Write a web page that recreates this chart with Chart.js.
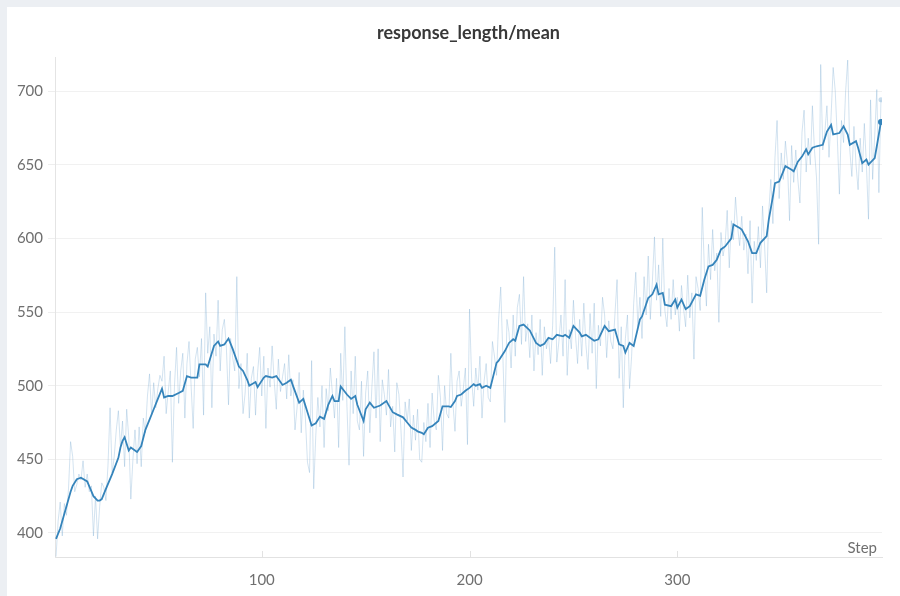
<!DOCTYPE html>
<html>
<head>
<meta charset="utf-8">
<script src="https://cdn.jsdelivr.net/npm/chart.js@4.4.1/dist/chart.umd.min.js"></script>
<style>
  html, body { margin: 0; padding: 0; width: 900px; height: 596px; overflow: hidden; background: #eceff3; }
  #card { position: absolute; left: 7px; top: 7px; width: 893px; height: 589px; background: #ffffff; }
  canvas { display: block; }
</style>
</head>
<body>
<div id="card"><canvas id="c" width="893" height="589"></canvas></div>
<script>
const chartTitle = "response_length/mean";
const xAxisLabel = "Step";
const yTickValues = [400, 450, 500, 550, 600, 650, 700];
const xTickValues = [100, 200, 300];

// raw metric, one value per step (step 1 .. 398)
const rawValues = [
  384, 408, 421, 398, 420, 412, 430, 462, 452, 428,
  433, 440, 436, 449, 431, 440, 428, 432, 398, 425,
  396, 418, 434, 431, 422, 446, 485, 440, 452, 470,
  483, 458, 476, 445, 484, 465, 423, 450, 470, 447,
  472, 445, 478, 468, 493, 508, 480, 502, 485, 498,
  507, 503, 520, 481, 496, 510, 448, 500, 526, 488,
  510, 522, 478, 515, 530, 500, 471, 518, 526, 506,
  532, 480, 563, 522, 540, 485, 535, 520, 558, 510,
  538, 545, 525, 487, 532, 519, 510, 574, 498, 515,
  481, 495, 522, 478, 505, 513, 480, 509, 526, 493,
  520, 471, 512, 499, 527, 503, 484, 518, 496, 506,
  515, 491, 521, 493, 504, 470, 485, 509, 468, 497,
  478, 448, 441, 517, 430, 466, 492, 472, 500, 458,
  498, 483, 512, 495, 478, 505, 458, 522, 490, 540,
  486, 446, 510, 481, 520, 476, 470, 503, 452, 495,
  510, 468, 499, 523, 478, 525, 462, 504, 494, 480,
  511, 472, 486, 455, 502, 494, 470, 438, 489, 476,
  491, 456, 480, 463, 484, 450, 448, 475, 462, 488,
  458, 495, 476, 470, 507, 492, 456, 500, 481, 478,
  522, 488, 469, 503, 510, 486, 498, 512, 460, 552,
  505, 486, 512, 497, 520, 478, 503, 515, 492, 489,
  530, 520, 507, 545, 567, 522, 475, 545, 536, 512,
  548, 520, 553, 562, 528, 574, 530, 542, 519, 548,
  510, 536, 521, 545, 507, 540, 525, 533, 515, 541,
  594, 516, 530, 548, 520, 572, 507, 538, 525, 558,
  534, 515, 545, 520, 556, 528, 511, 549, 522, 556,
  498, 541, 527, 560, 548, 519, 544, 530, 525, 549,
  572, 505, 540, 485, 532, 548, 498, 520, 556, 577,
  540, 560, 532, 574, 548, 588, 545, 571, 601, 558,
  582, 547, 600, 551, 540, 566, 545, 572, 548, 560,
  537, 568, 552, 540, 575, 546, 563, 518, 574, 566,
  551, 621, 580, 554, 596, 572, 606, 578, 590, 543,
  604, 588, 596, 619, 580, 612, 599, 628, 608, 595,
  615, 592, 603, 576, 612, 556, 598, 585, 608, 580,
  622, 595, 563, 618, 640, 610, 655, 680, 627, 658,
  640, 666, 651, 612, 663, 638, 660, 640, 624, 672,
  687, 645, 668, 650, 690, 660, 641, 596, 718, 660,
  672, 690, 655, 683, 716, 700, 668, 630, 680, 665,
  700, 721, 660, 642, 676, 650, 633, 668, 645, 678,
  650, 613, 694, 640, 670, 701, 631, 694
];

// smoothed curve, read at these steps
const smoothSteps = [
  1,3,5,6,8,9,11,13,16,19,21,22,23,25,28,31,32,33,34,36,37,39,40,42,44,46,48,50,52,53,55,57,60,62,64,66,69,70,73,74,
  77,79,80,82,84,86,89,91,93,94,97,98,101,102,105,107,110,112,114,115,118,120,122,124,126,128,130,132,134,135,
  137,138,141,143,145,146,149,150,152,154,157,160,161,163,165,168,170,172,174,175,177,178,180,182,185,187,190,191,193,194,
  196,198,200,202,203,205,206,208,210,213,214,217,219,221,222,224,226,229,232,234,236,238,240,242,245,246,248,250,253,254,
  256,258,260,262,265,267,270,272,274,275,277,279,282,283,286,288,290,291,293,294,297,299,300,302,304,306,309,311,313,315,
  317,319,321,323,326,327,330,331,334,336,338,340,343,344,346,347,349,351,352,355,356,358,360,362,363,365,367,370,372,374,
  375,378,380,382,383,386,387,389,391,392,395,396,398
];
const smoothValues = [
  396,403,413,418,428,432,436.5,437.5,435,425,422,422,423,430,440,451,458,462.5,465,456,458,456,455,459,470,477,484,491,498,492,493,493,495,496.5,506.5,505.5,505.5,514.5,514.5,513,
  527,530,527,528,532,525,513,510,504,500,502.5,499,505.5,506.5,505.5,506.5,500.5,502,504,500,488.5,491,482,473,474.5,479,477.5,487,493,489.5,
  489.5,499.5,494,491,493,487,476,484,488.5,485,486.5,489.5,487,482,480.5,478.5,475,471.5,470,469,468,467,471.5,472.5,476,486,486,485.5,489.5,493,
  494,496.5,498.5,501,500,501,498.5,500,498.5,515.5,517,523.5,529,531.5,530.5,540.5,541.5,537.5,529,527,528.5,532.5,531.5,534.5,533.5,534.5,532.5,540.5,536,533.5,
  534.5,532.5,530.5,531.5,540.5,537,538,528,527,522.5,529,527,545,547,559.5,562,568.5,562,563,555,554,558.5,553,558.5,552,554,562,561,572,581,
  582,585.5,592.5,594.5,600,609.5,607,606,598,590,590,597,601.5,612.5,628.5,637.5,638.5,645.5,649,646.5,645.5,652,655.5,660.5,657,661.5,662.5,663.5,672.5,677,
  670.5,671.5,676,670.5,663.5,666,661.5,651,653.5,650,654.5,662.5,679
];

const rawPoints = rawValues.map((v, i) => ({ x: i + 1, y: v }));
const smoothPoints = smoothSteps.map((s, i) => ({ x: s, y: smoothValues[i] }));

const FONT = "Lato, 'Open Sans', 'Noto Sans', sans-serif";

const extras = {
  id: 'extras',
  afterDraw(chart) {
    const ctx = chart.ctx;
    const xs = chart.scales.x;
    const area = chart.chartArea;
    ctx.save();
    ctx.strokeStyle = '#e2e2e2';
    ctx.lineWidth = 1;
    xTickValues.forEach(v => {
      const px = Math.round(xs.getPixelForValue(v)) + 0.5;
      ctx.beginPath();
      ctx.moveTo(px, area.bottom - 6);
      ctx.lineTo(px, area.bottom + 1);
      ctx.stroke();
    });
    ctx.fillStyle = '#6f6f6f';
    ctx.font = '15px ' + FONT;
    ctx.textAlign = 'right';
    ctx.textBaseline = 'middle';
    ctx.fillText(xAxisLabel, area.right - 5, area.bottom - 9);
    ctx.restore();
  }
};

new Chart(document.getElementById('c'), {
  type: 'line',
  data: {
    datasets: [
      {
        label: 'raw',
        data: rawPoints,
        borderColor: 'rgba(120,170,210,0.33)',
        borderWidth: 1,
        pointRadius: rawPoints.map((p, i) => i === rawPoints.length - 1 ? 2.5 : 0),
        pointBackgroundColor: 'rgba(120,170,210,0.4)',
        pointBorderWidth: 0,
        tension: 0,
        order: 2
      },
      {
        label: 'smoothed',
        data: smoothPoints,
        borderColor: '#3584bb',
        borderWidth: 1.8,
        pointRadius: smoothPoints.map((p, i) => i === smoothPoints.length - 1 ? 3 : 0),
        pointBackgroundColor: '#3584bb',
        pointBorderWidth: 0,
        tension: 0,
        order: 1
      }
    ]
  },
  options: {
    responsive: false,
    animation: false,
    events: [],
    layout: { padding: { left: 0, right: 18, top: 0, bottom: 0 } },
    plugins: {
      legend: { display: false },
      tooltip: { enabled: false },
      title: {
        display: true,
        fullSize: false,
        text: chartTitle,
        color: '#383838',
        font: { family: FONT, size: 18, weight: 'bold', lineHeight: 1 },
        padding: { top: 17, bottom: 15 }
      }
    },
    scales: {
      x: {
        type: 'linear',
        min: 0.5,
        max: 398.5,
        afterFit(s) { s.height = 39; },
        afterBuildTicks(s) { s.ticks = xTickValues.map(v => ({ value: v })); },
        ticks: {
          color: '#6f6f6f',
          font: { family: FONT, size: 15 },
          padding: 6,
          maxRotation: 0
        },
        grid: { display: false },
        border: { display: true, color: '#e2e2e2', width: 1 }
      },
      y: {
        min: 383.7,
        max: 723.1,
        afterFit(s) { s.width = 48; },
        afterBuildTicks(s) { s.ticks = yTickValues.map(v => ({ value: v })); },
        ticks: {
          color: '#6f6f6f',
          font: { family: FONT, size: 15 },
          padding: 5
        },
        grid: { color: '#f1f1f1', tickLength: 7, tickColor: '#eeeeee' },
        border: { display: true, color: '#e4e4e4', width: 1 }
      }
    }
  },
  plugins: [extras]
});
</script>
</body>
</html>
